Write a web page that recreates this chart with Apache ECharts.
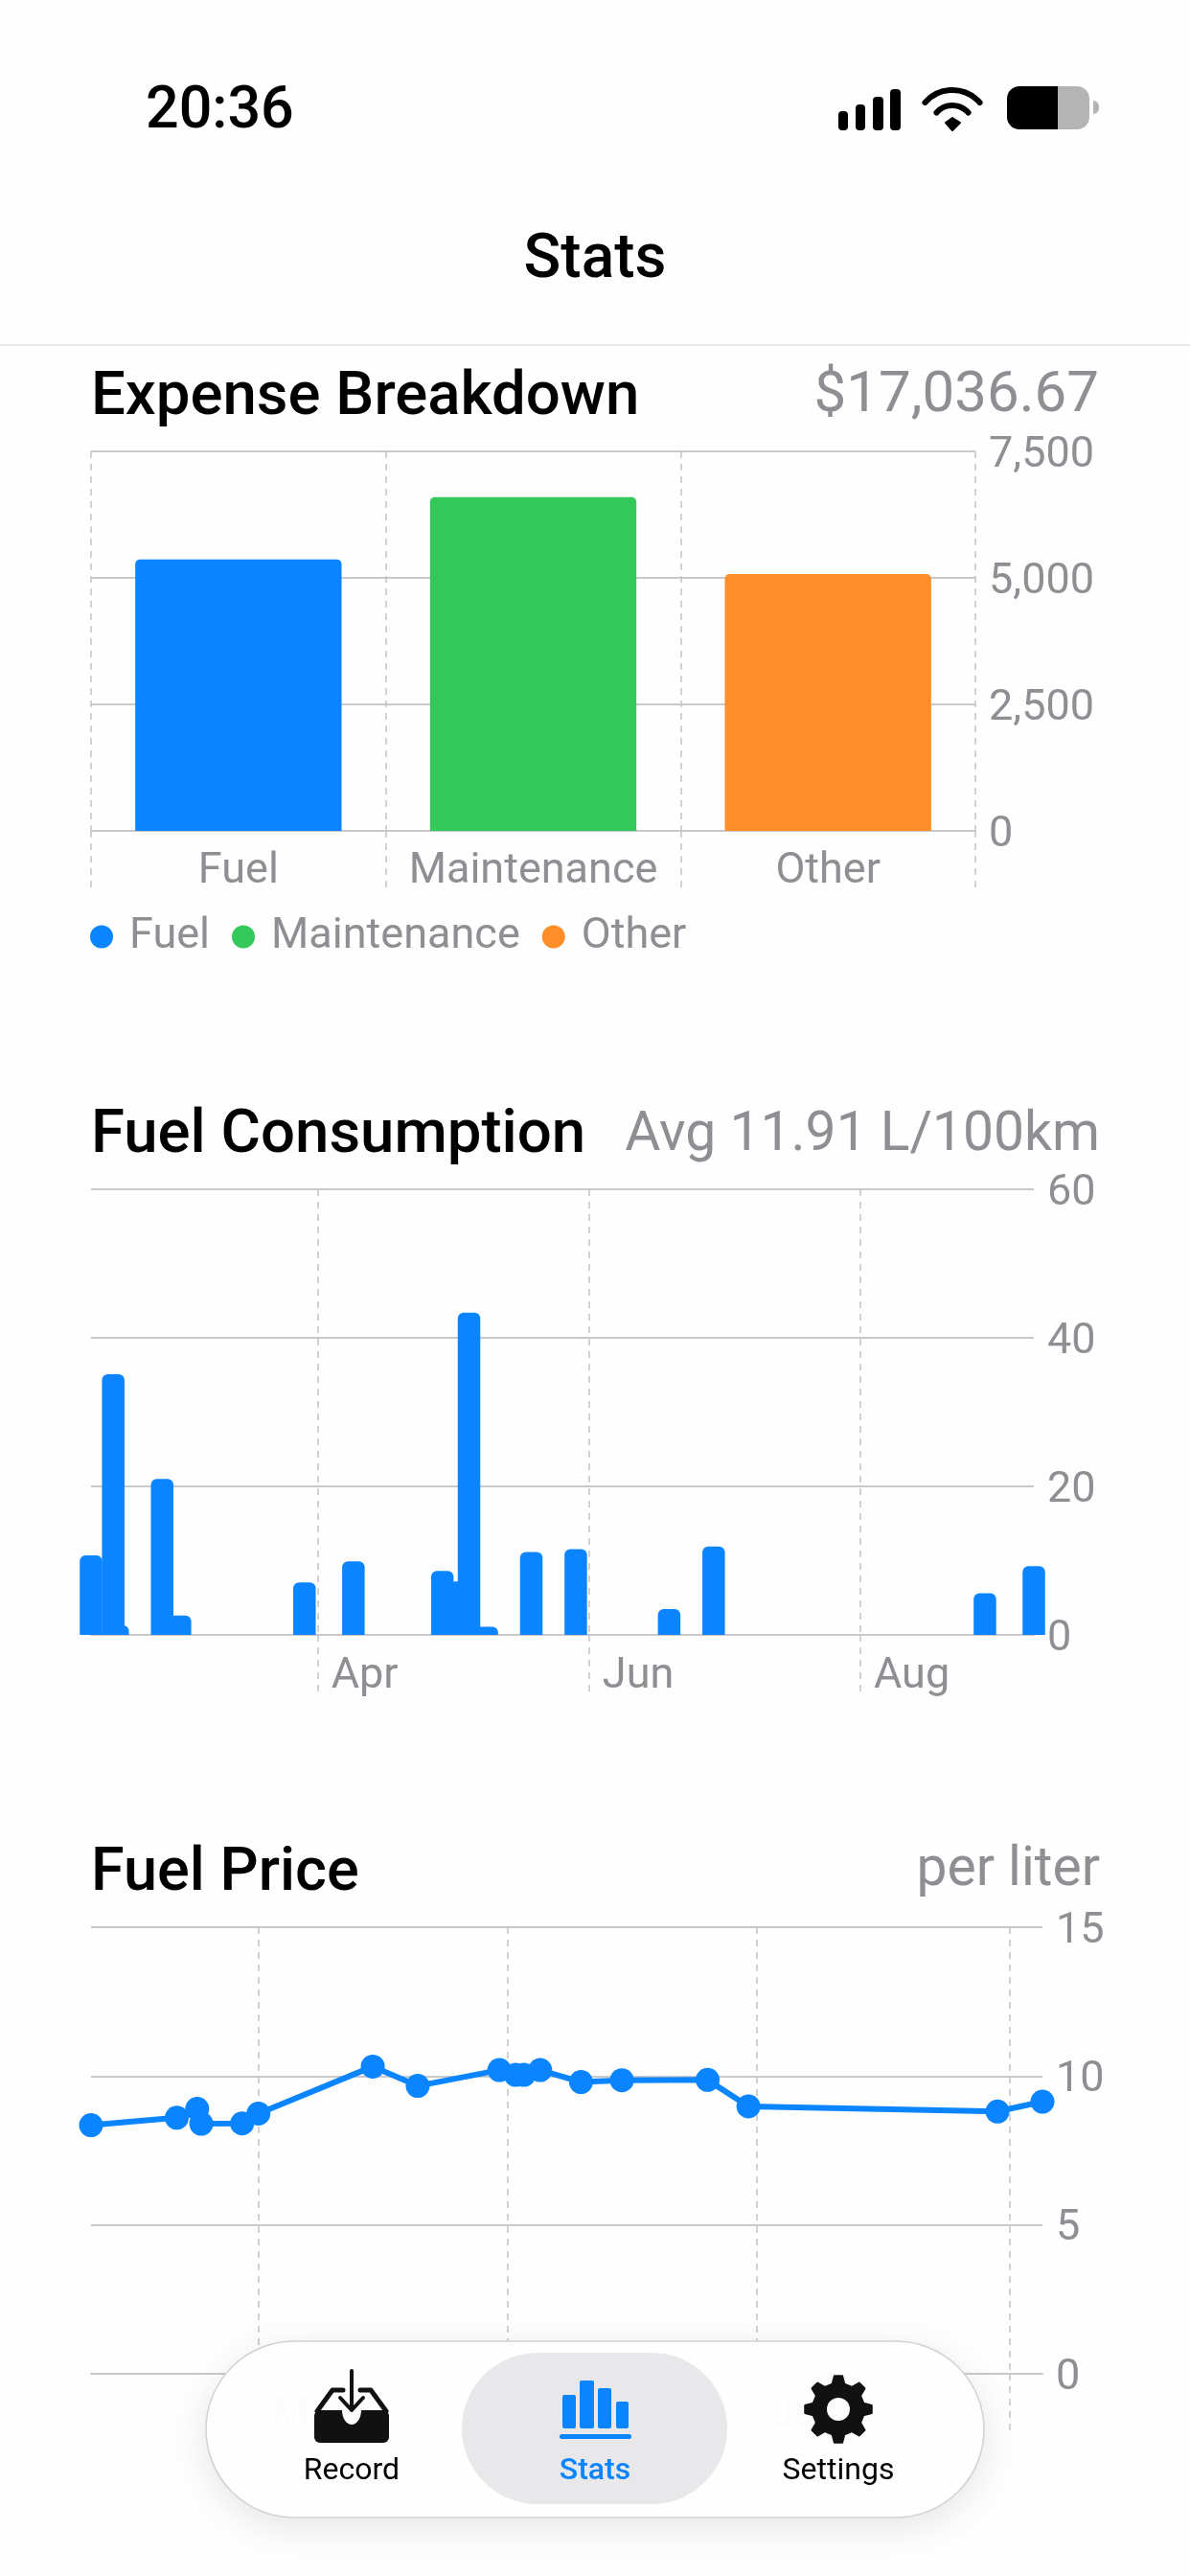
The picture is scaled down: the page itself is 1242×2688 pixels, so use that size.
<!DOCTYPE html>
<html>

<head>
    <script src="https://cdn.jsdelivr.net/npm/echarts@6/dist/echarts.min.js"></script>
    <style>
        html, body { margin: 0; padding: 0; background: #fefefe; }
    </style>
</head>

<body>
    <div id="echartsMain" style="width: 1242px; height: 2688px;"></div>
</body>

</html>

<script type="text/javascript">
    // expense breakdown
    const expenseCategories = ['Fuel', 'Maintenance', 'Other']
    const expenseValues = [5365, 6597, 5075]
    const expenseColors = ['#0a84ff', '#34c759', '#ff8d28']

    // fuel consumption, L/100km
    const consumptionDates = ['2025-02-09', '2025-02-14', '2025-02-15', '2025-02-25', '2025-03-01', '2025-03-29',
        '2025-04-09', '2025-04-29', '2025-05-03', '2025-05-05', '2025-05-09', '2025-05-19', '2025-05-29',
        '2025-06-19', '2025-06-29', '2025-08-29', '2025-09-09']
    const consumptionValues = [10.7, 35.1, 1.3, 21.0, 2.6, 7.05, 9.9, 8.6, 7.2, 43.4, 1.1, 11.15, 11.55, 3.5, 11.9, 5.6, 9.25]
    const consumptionTicks = ['2025-04-01', '2025-06-01', '2025-08-01']
    const consumptionTickLabels = ['Apr', 'Jun', 'Aug']

    // fuel price, per liter
    const priceDates = ['2025-01-19', '2025-02-09', '2025-02-14', '2025-02-15', '2025-02-25', '2025-03-01', '2025-03-29',
        '2025-04-09', '2025-04-29', '2025-05-03', '2025-05-05', '2025-05-09', '2025-05-19', '2025-05-29',
        '2025-06-19', '2025-06-29', '2025-08-29', '2025-09-09']
    const priceValues = [8.35, 8.6, 8.9, 8.4, 8.41, 8.74, 10.32, 9.67, 10.2, 10.04, 10.04, 10.2, 9.8, 9.86, 9.87, 8.98, 8.81, 9.14]
    const priceTicks = ['2025-03-01', '2025-05-01', '2025-07-01', '2025-09-01']
    const priceTickLabels = ['Mar', 'May', 'Jul', '']

    const BLUE = '#0a84ff'
    const GREY_TEXT = '#8e8e93'
    const GRID_LINE = '#c9c9cb'
    const DASH_LINE = '#c4c4c6'
    const FONT = 'Roboto'
    const TOP_Z = 100

    const toTime = s => new Date(s + 'T00:00:00').getTime()

    function text(str, x, y, size, color, weight, align) {
        return {
            type: 'text', z: TOP_Z + 2, silent: true,
            style: {
                text: str, x: x, y: y, fill: color, align: align || 'left', verticalAlign: 'middle',
                font: (weight || 400) + ' ' + size + 'px ' + FONT
            }
        }
    }

    function rect(x, y, w, h, r, fill, extra) {
        return Object.assign({
            type: 'rect', z: TOP_Z, silent: true,
            shape: { x: x, y: y, width: w, height: h, r: r },
            style: { fill: fill }
        }, extra || {})
    }

    function polyline(points, stroke, width) {
        return {
            type: 'polyline', z: TOP_Z + 1, silent: true,
            shape: { points: points },
            style: { stroke: stroke, lineWidth: width, fill: null, lineCap: 'round', lineJoin: 'round' }
        }
    }

    function gearPoints(cx, cy, rOut, rIn, teeth) {
        const out = []
        const step = Math.PI * 2 / teeth
        for (let i = 0; i < teeth; i++) {
            const a = -Math.PI / 2 + i * step
            const pts = [[a - step * 0.30, rIn], [a - step * 0.15, rOut], [a + step * 0.15, rOut], [a + step * 0.30, rIn]]
            pts.forEach(p => out.push([cx + Math.cos(p[0]) * p[1], cy + Math.sin(p[0]) * p[1]]))
        }
        return out
    }

    function statusBar() {
        const els = [text('20:36', 152, 118, 61, '#000', 500)]
        // signal
        els.push(rect(875, 116, 10, 20, 4, '#000'), rect(893, 109, 10, 27, 4, '#000'),
            rect(911, 101, 11, 35, 4, '#000'), rect(929, 93, 11, 43, 4, '#000'))
        // wifi
        const arc = (r, half) => ({
            type: 'arc', z: TOP_Z, silent: true,
            shape: { cx: 994, cy: 132, r: r, startAngle: -Math.PI / 2 - half, endAngle: -Math.PI / 2 + half },
            style: { stroke: '#000', lineWidth: 6, fill: null, lineCap: 'round' }
        })
        els.push(arc(38, 0.85), arc(22, 0.85))
        els.push({
            type: 'polygon', z: TOP_Z, silent: true,
            shape: { points: [[987, 128], [994, 123], [1002, 128], [994, 136]] },
            style: { fill: '#000', stroke: '#000', lineWidth: 2, lineJoin: 'round' }
        })
        // battery
        els.push(rect(1051, 90, 53, 45, [13, 0, 0, 13], '#000'), rect(1104, 90, 33, 45, [0, 13, 13, 0], '#b4b4b4'),
            rect(1141, 105, 6, 14, [0, 6, 6, 0], '#b4b4b4'))
        return els
    }

    function tabBar() {
        const els = []
        els.push(rect(215, 2443, 812, 184, 92, 'rgba(254,254,254,0.985)', {
            style: {
                fill: 'rgba(254,254,254,0.985)', stroke: '#d2d2d4', lineWidth: 1.5,
                shadowBlur: 40, shadowColor: 'rgba(0,0,0,0.10)', shadowOffsetY: 10
            }
        }))
        els.push(rect(482, 2455, 277, 158, 79, '#e8e8ea'))
        // record
        els.push(rect(328, 2515, 78, 34, 6, '#111'))
        els.push({
            type: 'ellipse', z: TOP_Z, silent: true,
            shape: { cx: 367, cy: 2515, rx: 10, ry: 15 }, style: { fill: '#fdfdfd' }
        })
        els.push(polyline([[331, 2516], [347, 2494], [358, 2494]], '#111', 5))
        els.push(polyline([[403, 2516], [387, 2494], [376, 2494]], '#111', 5))
        els.push(polyline([[367, 2474], [367, 2514]], '#111', 4))
        els.push(polyline([[355, 2502], [367, 2515], [379, 2502]], '#111', 4))
        // stats
        els.push(rect(587, 2499, 14, 35, 2, BLUE), rect(605, 2484, 15, 50, 2, BLUE),
            rect(624, 2492, 14, 42, 2, BLUE), rect(643, 2506, 13, 28, 2, BLUE), rect(584, 2540, 75, 5, 2.5, BLUE))
        // settings
        els.push({
            type: 'polygon', z: TOP_Z, silent: true,
            shape: { points: gearPoints(875, 2514, 35, 27, 8) },
            style: { fill: '#111', stroke: '#111', lineWidth: 2, lineJoin: 'round' }
        })
        els.push({
            type: 'circle', z: TOP_Z + 1, silent: true,
            shape: { cx: 875, cy: 2514, r: 12 }, style: { fill: '#fdfdfd' }
        })
        els.push(text('Record', 367, 2579, 32, '#000', 400, 'center'))
        els.push(text('Stats', 621, 2579, 32, BLUE, 500, 'center'))
        els.push(text('Settings', 875, 2579, 32, '#000', 400, 'center'))
        return els
    }

    function draw() {
        let myChart = echarts.init(document.getElementById('echartsMain'), null, { renderer: 'canvas' })

        const valueAxis = (gridIndex, max, interval, margin) => ({
            type: 'value', gridIndex: gridIndex, position: 'right',
            min: 0, max: max, interval: interval,
            axisLine: { show: false },
            axisTick: { show: false },
            // top aligned with negative padding, middle ignores padding and sits too high
            axisLabel: {
                color: GREY_TEXT, fontFamily: FONT, fontSize: 45, margin: margin,
                verticalAlign: 'top', lineHeight: 45, padding: [-18, 0, 0, 0]
            },
            splitLine: { lineStyle: { color: GRID_LINE, width: 2 } }
        })

        // value axis holding timestamps: the month ticks are not evenly spaced
        const dateAxis = (gridIndex, min, max, ticks, labels, tickLen) => {
            const tickTimes = ticks.map(toTime)
            return {
                type: 'value', gridIndex: gridIndex,
                min: toTime(min), max: toTime(max),
                axisLine: { lineStyle: { color: GRID_LINE, width: 2 } },
                axisTick: {
                    show: true, length: tickLen, customValues: tickTimes,
                    lineStyle: { color: DASH_LINE, width: 1.5, type: [7, 6] }
                },
                axisLabel: {
                    show: true, customValues: tickTimes, align: 'left', margin: 7,
                    color: GREY_TEXT, fontFamily: FONT, fontSize: 45, padding: [0, 0, 0, 14],
                    formatter: v => labels[tickTimes.indexOf(v)]
                },
                splitLine: { show: true, lineStyle: { color: DASH_LINE, width: 1.5, type: [7, 6] } }
            }
        }

        var option = {
            animation: false,
            backgroundColor: '#fefefe',
            grid: [
                { left: 95, top: 471, width: 923, height: 396 },
                { left: 95, top: 1241, width: 984, height: 465 },
                { left: 95, top: 2011, width: 993, height: 466 }
            ],
            legend: {
                data: expenseCategories, left: 89, top: 936, icon: 'circle',
                itemWidth: 24, itemHeight: 24, itemGap: 23,
                textStyle: { color: GREY_TEXT, fontFamily: FONT, fontSize: 45, padding: [0, 0, 0, 12] }
            },
            xAxis: [
                {
                    type: 'category', gridIndex: 0, data: expenseCategories,
                    axisLine: { lineStyle: { color: GRID_LINE, width: 2 } },
                    axisTick: { show: true, interval: 0, length: 65, lineStyle: { color: DASH_LINE, width: 1.5, type: [7, 6] } },
                    axisLabel: { interval: 0, color: GREY_TEXT, fontFamily: FONT, fontSize: 45, margin: 6 },
                    splitLine: { show: true, interval: 0, lineStyle: { color: DASH_LINE, width: 1.5, type: [7, 6] } }
                },
                dateAxis(1, '2025-02-09', '2025-09-09', consumptionTicks, consumptionTickLabels, 59),
                dateAxis(2, '2025-01-19', '2025-09-09', priceTicks, priceTickLabels, 60)
            ],
            yAxis: [
                valueAxis(0, 7500, 2500, 14),
                valueAxis(1, 60, 20, 14),
                valueAxis(2, 15, 5, 14)
            ],
            series: expenseCategories.map((name, i) => ({
                name: name, type: 'bar', stack: 'expense', xAxisIndex: 0, yAxisIndex: 0,
                barWidth: '70%',
                itemStyle: { color: expenseColors[i], borderRadius: [5, 5, 0, 0] },
                data: expenseValues.map((v, j) => (j === i ? v : '-'))
            })).concat([
                {
                    name: 'Consumption', type: 'bar', xAxisIndex: 1, yAxisIndex: 1, clip: false,
                    barWidth: 23.5,
                    itemStyle: { color: BLUE, borderRadius: [6, 6, 0, 0] },
                    data: consumptionDates.map((d, i) => [toTime(d), consumptionValues[i]])
                },
                {
                    name: 'Price', type: 'line', xAxisIndex: 2, yAxisIndex: 2, clip: false,
                    symbol: 'circle', symbolSize: 25,
                    itemStyle: { color: BLUE },
                    lineStyle: { color: BLUE, width: 6 },
                    data: priceDates.map((d, i) => [toTime(d), priceValues[i]])
                }
            ]),
            graphic: { elements: [].concat(
                statusBar(),
                [
                    text('Stats', 621, 273, 64, '#000', 500, 'center'),
                    rect(0, 359, 1242, 2, 0, '#e9e9eb'),
                    text('Expense Breakdown', 95, 416, 63.5, '#000', 500),
                    text('$17,036.67', 1147, 414, 60, GREY_TEXT, 400, 'right'),
                    text('Fuel Consumption', 95, 1186, 63.5, '#000', 500),
                    text('Avg 11.91 L/100km', 1148, 1186, 57, GREY_TEXT, 400, 'right'),
                    text('Fuel Price', 95, 1956, 63, '#000', 500),
                    text('per liter', 1148, 1953, 57, GREY_TEXT, 400, 'right')
                ],
                tabBar()
            ) }
        }
        myChart.setOption(option)
    }

    draw()
</script>
